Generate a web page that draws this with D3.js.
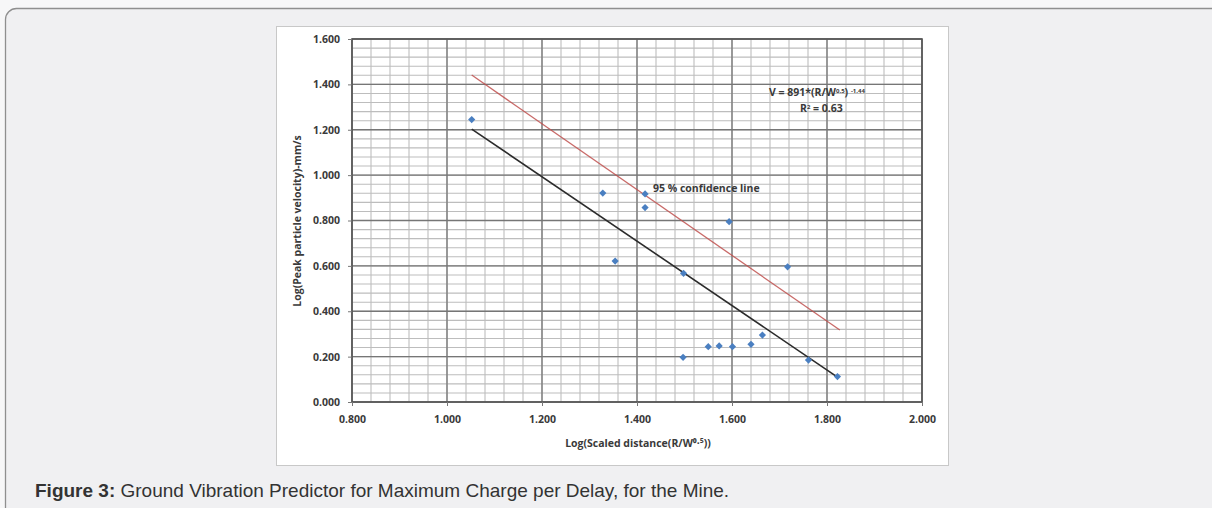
<!DOCTYPE html>
<html><head><meta charset="utf-8">
<script src="https://cdn.jsdelivr.net/npm/d3@7"></script>
<style>
html,body{margin:0;padding:0;background:#f7f7f8;}
svg{display:block;}
</style></head>
<body>
<svg id="c" width="1212" height="508"></svg>
<script>
// ---- data ----
const scaledDistance = [1.052, 1.328, 1.354, 1.417, 1.417, 1.498, 1.497, 1.594, 1.550, 1.573, 1.601, 1.640, 1.664, 1.717, 1.761, 1.822];
const peakVelocity   = [1.245, 0.921, 0.621, 0.917, 0.857, 0.567, 0.197, 0.795, 0.244, 0.247, 0.244, 0.254, 0.295, 0.596, 0.185, 0.112];
const regressionX = [1.052, 1.822];
const regressionY = [1.203, 0.110];
const confidenceX = [1.052, 1.827];
const confidenceY = [1.441, 0.317];
const xTicks = [0.8, 1.0, 1.2, 1.4, 1.6, 1.8, 2.0];
const yTicks = [0.0, 0.2, 0.4, 0.6, 0.8, 1.0, 1.2, 1.4, 1.6];
const xLabel = "Log(Scaled distance(R/W\u2070\u00B7\u2075))";
const yLabel = "Log(Peak particle velocity)-mm/s";
const captionBold = "Figure 3:";
const captionText = " Ground Vibration Predictor for Maximum Charge per Delay, for the Mine.";

const svg = d3.select("#c");
// outer panel
svg.append("rect").attr("x",5.5).attr("y",8.5).attr("width",1230).attr("height",520)
  .attr("rx",11).attr("fill","#f0f0f2").attr("stroke","#8f8f8f").attr("stroke-width",1.3);
// image box
svg.append("rect").attr("x",276.5).attr("y",26.5).attr("width",672).attr("height",439)
  .attr("fill","#ffffff").attr("stroke","#c8c8c8");

const x = d3.scaleLinear().domain([0.8,2.0]).range([352,922]);
const y = d3.scaleLinear().domain([0,1.6]).range([402,39]);

const g = svg.append("g");
// minor grid
const minorX = d3.range(0.8,2.0001,0.04);
const minorY = d3.range(0,1.6001,0.04);
g.selectAll(".mx").data(minorX).join("line")
  .attr("x1",d=>x(d)).attr("x2",d=>x(d)).attr("y1",y(0)).attr("y2",y(1.6))
  .attr("stroke","#bdbdbd").attr("stroke-width",1.1);
g.selectAll(".my").data(minorY).join("line")
  .attr("y1",d=>y(d)).attr("y2",d=>y(d)).attr("x1",x(0.8)).attr("x2",x(2.0))
  .attr("stroke","#bdbdbd").attr("stroke-width",1.1);
// major grid
g.selectAll(".Mx").data(xTicks).join("line")
  .attr("x1",d=>x(d)).attr("x2",d=>x(d)).attr("y1",y(0)).attr("y2",y(1.6))
  .attr("stroke","#767676").attr("stroke-width",1.3);
g.selectAll(".My").data(yTicks).join("line")
  .attr("y1",d=>y(d)).attr("y2",d=>y(d)).attr("x1",x(0.8)).attr("x2",x(2.0))
  .attr("stroke","#767676").attr("stroke-width",1.3);
// frame
g.append("rect").attr("x",x(0.8)).attr("y",y(1.6)).attr("width",x(2.0)-x(0.8)).attr("height",y(0)-y(1.6))
  .attr("fill","none").attr("stroke","#555").attr("stroke-width",1.6);

// axes
const fmt = d3.format(".3f");
const xa = svg.append("g").attr("transform",`translate(0,${y(0)})`)
  .call(d3.axisBottom(x).tickValues(xTicks).tickFormat(fmt).tickSize(4).tickPadding(10));
const ya = svg.append("g").attr("transform",`translate(${x(0.8)},0)`)
  .call(d3.axisLeft(y).tickValues(yTicks).tickFormat(fmt).tickSize(4).tickPadding(8));
[xa,ya].forEach(a=>{
  a.select(".domain").remove();
  a.selectAll("line").attr("stroke","#777");
  a.selectAll("text").attr("font-family","Open Sans, sans-serif").attr("font-size",10.5)
   .attr("font-weight","bold").attr("fill","#3a3a3a");
});

// lines
const line = d3.line().x(d=>x(d[0])).y(d=>y(d[1]));
svg.append("path").datum(d3.zip(confidenceX,confidenceY)).attr("d",line)
  .attr("fill","none").attr("stroke","#c0504d").attr("stroke-width",1.3).attr("opacity",0.85);
svg.append("path").datum(d3.zip(regressionX,regressionY)).attr("d",line)
  .attr("fill","none").attr("stroke","#2b2b2b").attr("stroke-width",1.6);

// points (square diamonds)
const pts = d3.zip(scaledDistance,peakVelocity);
svg.selectAll(".pt").data(pts).join("path")
  .attr("d",d3.symbol(d3.symbolSquare,26))
  .attr("transform",d=>`translate(${x(d[0])},${y(d[1])}) rotate(45)`)
  .attr("fill","#4a7fc1");

// labels
const tf = "Open Sans, sans-serif";
svg.append("text").attr("x",638).attr("y",447).attr("text-anchor","middle")
  .attr("font-family",tf).attr("font-size",10.5).attr("font-weight","bold").attr("fill","#3a3a3a")
  .text(xLabel);
svg.append("text").attr("transform","translate(301,221) rotate(-90)").attr("text-anchor","middle")
  .attr("font-family",tf).attr("font-size",10.5).attr("font-weight","bold").attr("fill","#3a3a3a")
  .text(yLabel);

const eq = svg.append("text").attr("x",769).attr("y",96)
  .attr("font-family",tf).attr("font-size",10.5).attr("font-weight","bold").attr("fill","#3a3a3a");
eq.append("tspan").text("V = 891*(R/W");
eq.append("tspan").attr("font-size",6).attr("dy",-3.5).text("0.5");
eq.append("tspan").attr("dy",3.5).text(") ");
eq.append("tspan").attr("font-size",6).attr("dy",-3.5).text("-1.44");
const r2 = svg.append("text").attr("x",800).attr("y",112)
  .attr("font-family",tf).attr("font-size",10.5).attr("font-weight","bold").attr("fill","#3a3a3a");
r2.append("tspan").text("R");
r2.append("tspan").attr("font-size",6).attr("dy",-3.5).text("2");
r2.append("tspan").attr("dy",3.5).text(" = 0.63");

svg.append("text").attr("x",653).attr("y",192)
  .attr("font-family",tf).attr("font-size",10.5).attr("font-weight","bold").attr("fill","#3a3a3a")
  .text("95 % confidence line");

// caption
const cap = svg.append("text").attr("x",35).attr("y",497)
  .attr("font-family","Liberation Sans, Arial, sans-serif").attr("font-size",19).attr("fill","#333");
cap.append("tspan").attr("font-weight","bold").text(captionBold);
cap.append("tspan").text(captionText);
</script>
</body></html>
